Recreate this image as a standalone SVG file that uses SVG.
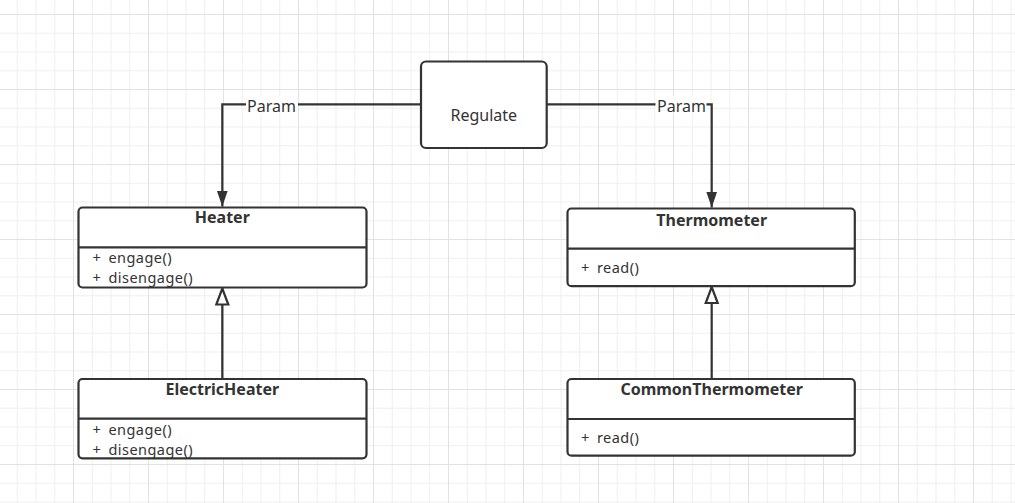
<svg xmlns="http://www.w3.org/2000/svg" width="1015" height="503" viewBox="0 0 1015 503">
  <style>
    .box { fill: #ffffff; stroke: #333333; stroke-width: 2.2; }
    .div { stroke: #333333; stroke-width: 2.2; }
    .edge { fill: none; stroke: #333333; stroke-width: 2.2; }
    .t { font-family: "Noto Sans", "Open Sans", sans-serif; font-size: 16px; fill: #333333; }
    .m { font-size: 14.5px; letter-spacing: 0.45px; word-spacing: 3px; }
    .title { font-weight: bold; text-anchor: middle; }
    .mid { text-anchor: middle; }
    .lbl-bg { fill: #ffffff; }
  </style>
  <defs>
    <pattern id="grid" x="73" y="14" width="75" height="75" patternUnits="userSpaceOnUse">
      <path d="M19.25 0 V75 M38 0 V75 M56.75 0 V75 M0 19.25 H75 M0 38 H75 M0 56.75 H75" stroke="#efefef" stroke-width="1" fill="none"/>
      <path d="M0.5 0 V75 M0 0.5 H75" stroke="#e2e2e2" stroke-width="1" fill="none"/>
    </pattern>
    <marker id="filled" viewBox="0 0 16 12" refX="16" refY="6" markerWidth="16" markerHeight="12" markerUnits="userSpaceOnUse" orient="auto">
      <path d="M0 0.5 L16 6 L0 11.5 Z" fill="#333333"/>
    </marker>
    <marker id="hollow" viewBox="-2 -2 20 16" refX="16" refY="6" markerWidth="20" markerHeight="16" markerUnits="userSpaceOnUse" orient="auto">
      <path d="M0 0 L16 6 L0 12 Z" fill="#ffffff" stroke="#333333" stroke-width="2.2" stroke-linejoin="miter"/>
    </marker>
  </defs>
  <rect x="0" y="0" width="1015" height="503" fill="#ffffff"/>
  <rect x="0" y="0" width="1015" height="503" fill="url(#grid)"/>

  <g id="connectors">
    <path class="edge" d="M421 104.3 H222.3 V206.5" marker-end="url(#filled)"/>
    <rect class="lbl-bg" x="246" y="96" width="52" height="17"/>
    <text class="t mid" x="271.5" y="112">Param</text>
    <path class="edge" d="M547 104.3 H711.7 V207.5" marker-end="url(#filled)"/>
    <rect class="lbl-bg" x="655.5" y="96" width="51" height="17"/>
    <text class="t mid" x="681.5" y="112">Param</text>
    <path class="edge" d="M222.3 379 V288.5" marker-end="url(#hollow)"/>
    <path class="edge" d="M711.7 379 V287" marker-end="url(#hollow)"/>
  </g>

  <g id="regulate">
    <rect class="box" x="421" y="61.5" width="125.7" height="86.5" rx="5"/>
    <text class="t mid" x="483.8" y="121">Regulate</text>
  </g>

  <g id="heater">
    <rect class="box" x="78.5" y="207.5" width="288" height="80" rx="4"/>
    <line class="div" x1="78.5" y1="247.3" x2="366.5" y2="247.3"/>
    <text class="t title" x="222.3" y="223.3">Heater</text>
    <text class="t m" x="92.5" y="263.3">+ engage()</text>
    <text class="t m" x="92.5" y="283.3">+ disengage()</text>
  </g>

  <g id="thermometer">
    <rect class="box" x="567.5" y="208.5" width="287.3" height="77.7" rx="4"/>
    <line class="div" x1="567.5" y1="248.7" x2="854.8" y2="248.7"/>
    <text class="t title" x="711.7" y="225.5">Thermometer</text>
    <text class="t m" x="581" y="273.3">+ read()</text>
  </g>

  <g id="electricheater">
    <rect class="box" x="78.5" y="379" width="288" height="79.3" rx="4"/>
    <line class="div" x1="78.5" y1="418.7" x2="366.5" y2="418.7"/>
    <text class="t title" x="222.3" y="394.5">ElectricHeater</text>
    <text class="t m" x="92.5" y="434.8">+ engage()</text>
    <text class="t m" x="92.5" y="454.8">+ disengage()</text>
  </g>

  <g id="commonthermometer">
    <rect class="box" x="567.5" y="379" width="287.3" height="76.7" rx="4"/>
    <line class="div" x1="567.5" y1="419" x2="854.8" y2="419"/>
    <text class="t title" x="711.7" y="394.5">CommonThermometer</text>
    <text class="t m" x="581" y="443.3">+ read()</text>
  </g>
</svg>
